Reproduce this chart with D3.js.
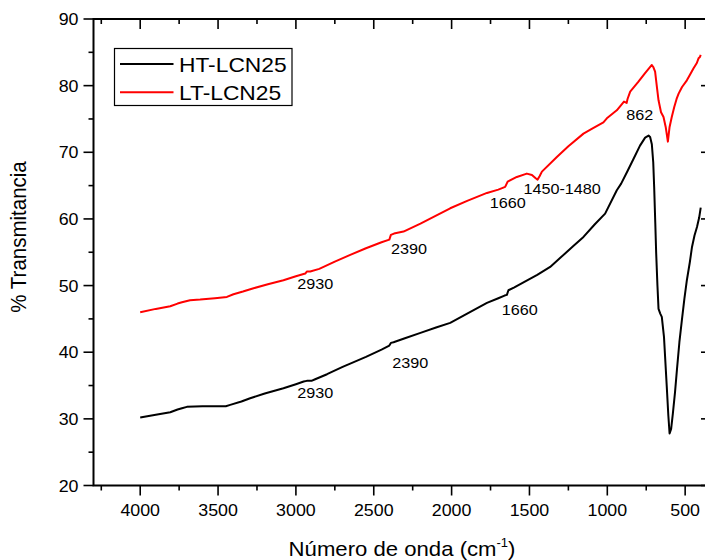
<!DOCTYPE html>
<html>
<head>
<meta charset="utf-8">
<script src="https://cdn.jsdelivr.net/npm/d3@7"></script>
<style>
  html, body { margin: 0; padding: 0; background: #fff; }
  svg { display: block; }
  text { font-family: Arial, "Liberation Sans", Helvetica, sans-serif; fill: #000; }
</style>
</head>
<body>
<svg id="chart" width="705" height="560"></svg>
<script>
// FTIR spectra: wavenumber (cm-1) vs. % transmittance
const htWave = [4000, 3900, 3807, 3760, 3732, 3700, 3600, 3520, 3450, 3422, 3350, 3294, 3200, 3080, 3000, 2950, 2930, 2900, 2880, 2800, 2700, 2651, 2550, 2450, 2400, 2390, 2373, 2300, 2200, 2100, 2009, 1900, 1773, 1700, 1660, 1645, 1635, 1600, 1506, 1450, 1367, 1300, 1220, 1153, 1080, 1014, 939, 911, 870, 832, 790, 757, 735, 725, 714, 705, 699, 692, 686, 678, 671, 660, 650, 636, 618, 608, 600, 590, 579, 565, 553, 537, 521, 505, 489, 470, 456, 440, 424, 410, 400];
const htTrans = [30.2, 30.6, 31.0, 31.4, 31.6, 31.8, 31.9, 31.9, 31.9, 32.1, 32.6, 33.1, 33.8, 34.6, 35.2, 35.6, 35.7, 35.7, 35.9, 36.7, 37.8, 38.3, 39.3, 40.4, 41.0, 41.4, 41.5, 42.1, 42.9, 43.7, 44.4, 45.8, 47.4, 48.1, 48.5, 48.6, 49.3, 49.7, 50.9, 51.6, 52.8, 54.2, 55.9, 57.3, 59.2, 60.8, 64.3, 65.3, 67.2, 69.0, 71.0, 72.2, 72.5, 72.3, 71.2, 68.5, 64.8, 59.5, 54.8, 50.0, 46.5, 45.8, 45.3, 42.3, 34.8, 30.5, 27.8, 28.5, 30.8, 34.0, 37.3, 41.5, 44.8, 48.0, 50.8, 53.5, 55.8, 57.5, 58.8, 60.2, 61.7];

const ltWave = [4000, 3900, 3807, 3760, 3732, 3680, 3615, 3520, 3443, 3401, 3340, 3272, 3180, 3080, 3000, 2940, 2930, 2908, 2850, 2750, 2651, 2550, 2450, 2400, 2390, 2370, 2309, 2200, 2100, 2009, 1900, 1773, 1700, 1656, 1640, 1581, 1517, 1484, 1460, 1448, 1435, 1420, 1324, 1250, 1153, 1100, 1025, 1003, 939, 893, 876, 870, 853, 800, 760, 714, 705, 693, 680, 671, 655, 639, 625, 611, 600, 586, 570, 555, 542, 520, 489, 470, 446, 425, 414, 405, 400];
const ltTrans = [46.0, 46.5, 46.9, 47.3, 47.5, 47.8, 47.9, 48.1, 48.3, 48.7, 49.1, 49.6, 50.2, 50.8, 51.4, 51.8, 52.1, 52.1, 52.5, 53.6, 54.6, 55.6, 56.5, 56.9, 57.6, 57.8, 58.1, 59.3, 60.5, 61.6, 62.7, 63.9, 64.4, 64.8, 65.6, 66.3, 66.8, 66.6, 66.1, 65.9, 66.4, 67.1, 69.3, 70.9, 72.8, 73.5, 74.5, 75.1, 76.3, 77.6, 77.4, 78.0, 79.1, 80.6, 81.8, 83.1, 82.8, 82.1, 79.5, 77.8, 76.0, 75.3, 73.8, 71.6, 73.8, 75.3, 76.8, 78.0, 78.8, 79.8, 80.8, 81.6, 82.6, 83.4, 84.1, 84.3, 84.6];

const seriesNames = ["HT-LCN25", "LT-LCN25"];
const seriesColors = ["#000000", "#ff0000"];

const xTicks = [4000, 3500, 3000, 2500, 2000, 1500, 1000, 500];
const xMinorTicks = [4250, 4000, 3750, 3500, 3250, 3000, 2750, 2500, 2250, 2000, 1750, 1500, 1250, 1000, 750, 500];
const yTicks = [20, 30, 40, 50, 60, 70, 80, 90];
const yMinorTicks = [25, 35, 45, 55, 65, 75, 85];

// Band labels: [text, label centre wavenumber, label baseline transmittance]
const bandLabels = [
  ["862", 791, 74.8],
  ["1450-1480", 1290, 63.7],
  ["1660", 1640, 61.6],
  ["2390", 2274, 54.8],
  ["2930", 2876, 49.5],
  ["2930", 2876, 33.2],
  ["2390", 2266, 37.6],
  ["1660", 1563, 45.6]
];

const plotLeft = 93.5, plotTop = 19, plotRight = 711, plotBottom = 485.5;
const SX = 1.08; // glyph width factor

const svg = d3.select("#chart");
const x = d3.scaleLinear().domain([4300, 334]).range([plotLeft, plotRight]);
const y = d3.scaleLinear().domain([20, 90]).range([plotBottom, plotTop]);

function label(g, px, py, str, size, anchor, extraTransform) {
  return g.append("text")
    .attr("transform", `translate(${px},${py})` + (extraTransform || ` scale(${SX},1)`))
    .attr("text-anchor", anchor)
    .style("font-size", size + "px")
    .text(str);
}

// frame + ticks
const axisG = svg.append("g").attr("stroke", "#000").attr("stroke-width", 1.6);
function tickLines(vals, fn) {
  vals.forEach(v => { const t = fn(v); axisG.append("line").attr("x1", t[0]).attr("y1", t[1]).attr("x2", t[2]).attr("y2", t[3]); });
}
const xMinorOnly = xMinorTicks.filter(v => !xTicks.includes(v));
// bottom: outward
tickLines(xTicks, v => [x(v), plotBottom, x(v), plotBottom + 10]);
tickLines(xMinorOnly, v => [x(v), plotBottom, x(v), plotBottom + 5]);
// top: inward
tickLines(xTicks, v => [x(v), plotTop, x(v), plotTop + 10]);
tickLines(xMinorOnly, v => [x(v), plotTop, x(v), plotTop + 5]);
// left: outward
tickLines(yTicks, v => [plotLeft, y(v), plotLeft - 10, y(v)]);
tickLines(yMinorTicks, v => [plotLeft, y(v), plotLeft - 5, y(v)]);
// right: inward
tickLines(yTicks, v => [plotRight, y(v), plotRight - 10, y(v)]);
tickLines(yMinorTicks, v => [plotRight, y(v), plotRight - 5, y(v)]);

axisG.append("rect").attr("x", plotLeft).attr("y", plotTop)
  .attr("width", plotRight - plotLeft).attr("height", plotBottom - plotTop)
  .attr("fill", "none").attr("stroke-width", 2);

// tick labels
const lab = svg.append("g");
xTicks.forEach(v => label(lab, x(v), plotBottom + 30.5, String(v), 16.5, "middle"));
yTicks.forEach(v => label(lab, plotLeft - 15, y(v) + 6, String(v), 16.5, "end"));

// axis titles
const xt = lab.append("text")
  .attr("transform", `translate(402,556) scale(${SX},1)`)
  .attr("text-anchor", "middle")
  .style("font-size", "20.5px");
xt.append("tspan").text("Número de onda (cm");
xt.append("tspan").attr("dy", -9).style("font-size", "12px").text("-1");
xt.append("tspan").attr("dy", 9).text(")");

label(lab, 26, 237, "% Transmitancia", 20.5, "middle", ` rotate(-90) scale(1,${SX})`);

// spectra
const line = d3.line().x(d => x(d[0])).y(d => y(d[1]));
const plotG = svg.append("g");
[[htWave, htTrans], [ltWave, ltTrans]].forEach((s, i) => {
  const pts = s[0].map((w, k) => [w, s[1][k]]);
  plotG.append("path").datum(pts)
    .attr("d", line)
    .attr("fill", "none")
    .attr("stroke", seriesColors[i])
    .attr("stroke-width", 2)
    .attr("stroke-linejoin", "round");
});

// band annotations
bandLabels.forEach(b => label(lab, x(b[1]), y(b[2]), b[0], 15, "middle"));

// legend
const leg = svg.append("g");
leg.append("rect").attr("x", 114.5).attr("y", 48.5).attr("width", 177.5).attr("height", 57)
  .attr("fill", "#fff").attr("stroke", "#000").attr("stroke-width", 1.2);
seriesNames.forEach((name, i) => {
  const ly = 64 + i * 28.3;
  leg.append("line").attr("x1", 120).attr("x2", 173.5).attr("y1", ly).attr("y2", ly)
    .attr("stroke", seriesColors[i]).attr("stroke-width", 2);
  label(leg, 179, ly + 7.5, name, 20, "start", " scale(1.14,1)");
});
</script>
</body>
</html>
